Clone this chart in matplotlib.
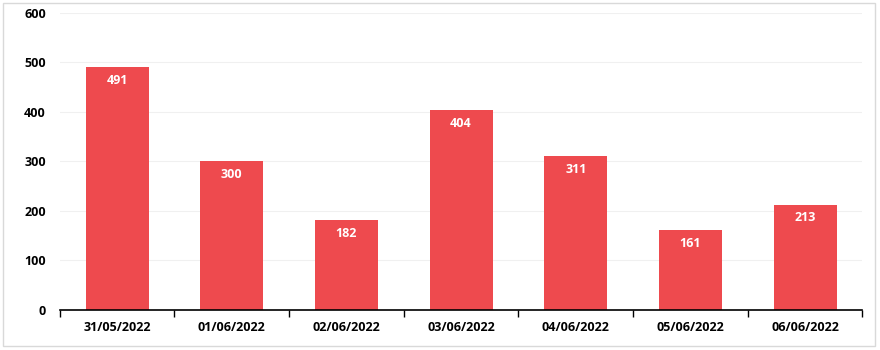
import numpy as np
from matplotlib import pyplot as plt
from matplotlib.patches import Rectangle

dates = ["31/05/2022", "01/06/2022", "02/06/2022", "03/06/2022",
         "04/06/2022", "05/06/2022", "06/06/2022"]
counts = [491, 300, 182, 404, 311, 161, 213]
y_ticks = [0, 100, 200, 300, 400, 500, 600]

plt.rcParams["font.family"] = ["Open Sans", "DejaVu Sans"]

fig = plt.figure(figsize=(8.8, 3.5), dpi=100)
ax = fig.add_axes([0.068, 0.1143, 0.912, 0.849])

x = np.arange(len(dates))
bars = ax.bar(x, counts, width=0.55, color="#EE4A4E", zorder=2)
for xi, v in zip(x, counts):
    ax.text(xi, v - 14, str(v), ha="center", va="top", color="white",
            fontsize=9, fontweight="bold", zorder=3)

ax.set_xlim(-0.5, len(dates) - 0.5)
ax.set_ylim(0, 600)
ax.set_yticks(y_ticks)
ax.set_yticklabels([str(t) for t in y_ticks], fontsize=9, fontweight="bold")
ax.tick_params(axis="y", length=0, pad=10)

ax.set_xticks(x)
ax.set_xticklabels(dates, fontsize=9, fontweight="bold")
ax.set_xticks(np.arange(len(dates) + 1) - 0.5, minor=True)
ax.tick_params(axis="x", which="major", length=0, pad=8)
ax.tick_params(axis="x", which="minor", length=5, width=1, color="black")

ax.grid(axis="y", color="#F0F0F0", linewidth=0.8, zorder=0)
for s in ["top", "right", "left"]:
    ax.spines[s].set_visible(False)
ax.spines["bottom"].set_color("black")
ax.spines["bottom"].set_linewidth(1.2)

fig.patches.append(Rectangle((3 / 880, 4 / 350), 872 / 880, 343 / 350,
                             transform=fig.transFigure, fill=False,
                             edgecolor="#D9D9D9", linewidth=1))

plt.savefig("out.png", dpi=100)
